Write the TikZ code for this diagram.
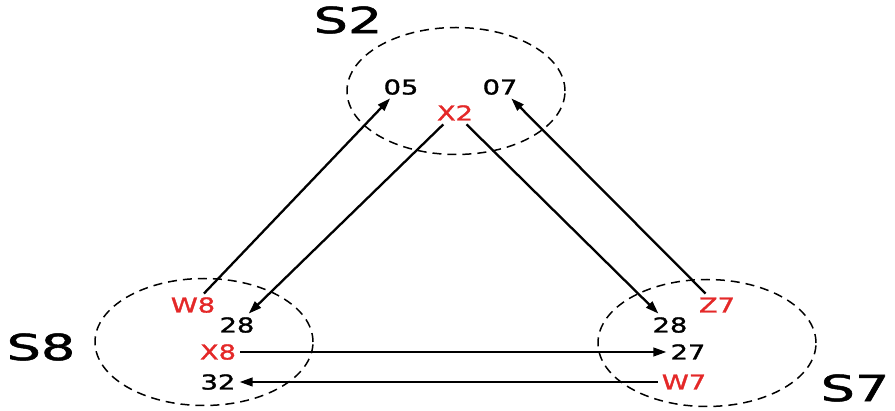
\documentclass[tikz,border=0pt]{standalone}
\usepackage{fontspec}
\setmainfont{DejaVu Sans}[RawFeature={embolden=1.3}]
\usetikzlibrary{arrows.meta,shapes.geometric}
\definecolor{keyred}{RGB}{228,40,40}
\newcommand{\wide}[1]{\scalebox{1.33}[1]{#1}}
\newcommand{\wider}[1]{\scalebox{1.5}[1]{#1}}
\begin{document}
\begin{tikzpicture}[x=1pt,y=-1pt,
  site/.style={ellipse,draw,dashed,dash pattern=on 9pt off 6pt,line width=1.5pt,
    minimum width=218pt,minimum height=127pt,inner sep=0pt},
  sitename/.style={font=\fontsize{36}{40}\selectfont,inner sep=0pt},
  val/.style={font=\fontsize{20.5}{22}\selectfont,inner sep=3pt,text height=15pt,text depth=0pt},
  key/.style={val,text=keyred},
  link/.style={line width=2.3pt,-{Triangle[length=13pt,width=8.5pt]},shorten <=1pt,shorten >=1pt}]
\useasboundingbox (0,0) rectangle (895,411);

% the three sites
\node[site] (c2) at (456,91) {};
\node[site] (c8) at (204,342) {};
\node[site] (c7) at (707,343) {};
\node[sitename] (n2) at (348,20) {\wider{S2}};
\node[sitename] (n8) at (41,347) {\wider{S8}};
\node[sitename] (n7) at (855,388) {\wider{S7}};

% entries of S2
\node[val] (a05) at (401,87) {\wide{05}};
\node[val] (a07) at (500,87) {\wide{07}};
\node[key] (x2) at (455,113) {\wide{X2}};

% entries of S8
\node[key] (w8) at (193,305) {\wide{W8}};
\node[val] (b28) at (237,325) {\wide{28}};
\node[key] (x8) at (218,352) {\wide{X8}};
\node[val] (b32) at (218,382) {\wide{32}};

% entries of S7
\node[key] (z7) at (717,305) {\wide{Z7}};
\node[val] (d28) at (670,325) {\wide{28}};
\node[val] (d27) at (688,352) {\wide{27}};
\node[key] (w7) at (684,382) {\wide{W7}};

% references between sites
\draw[link] (w8) -- (a05);
\draw[link] (x2) -- (b28);
\draw[link] (x2) -- (d28);
\draw[link] (z7) -- (a07);
\draw[link] (x8) -- (d27);
\draw[link] (w7) -- (b32);
\end{tikzpicture}
\end{document}
